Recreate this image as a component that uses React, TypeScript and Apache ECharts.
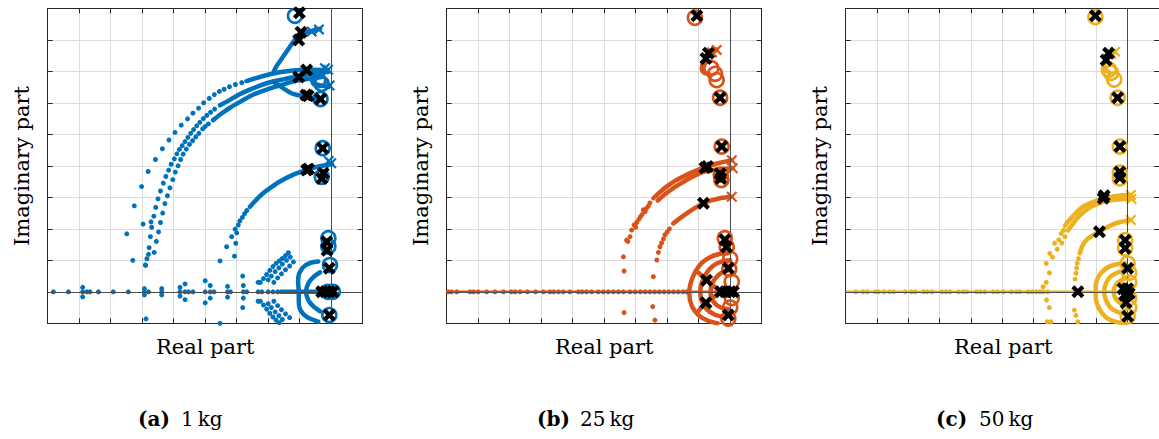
import React, { useEffect, useRef } from 'react';
import * as echarts from 'echarts';

type P = [number, number];

const BLUE = '#0072BD';
const ORANGE = '#D95319';
const YELLOW = '#EDB120';

const X_MIN = -9, X_MAX = 1, Y_MIN = -1, Y_MAX = 9;
const captions = [['(a)', '1\u2009kg'], ['(b)', '25\u2009kg'], ['(c)', '50\u2009kg']];

// ---------------- Panel (a) 1 kg ----------------
const aPoles: P[] = [[-0.39, 8.33], [-0.62, 8.26], [-0.1, 7.05], [-0.2, 7.1], [-0.05, 6.55], [0.0, 4.08], [-0.08, 4.15]];
const aZeros: P[] = [[-1.15, 8.76], [-0.41, 6.72], [-0.3, 6.6], [-0.34, 6.12], [-0.27, 4.56], [-0.3, 3.65], [-0.09, 1.7], [-0.09, 1.44], [-0.04, 0.85], [-0.06, -0.74], [-0.1, 0], [0.05, 0]];
const aClosed: P[] = [[-1.01, 8.86], [-0.96, 8.24], [-1.03, 7.99], [-0.78, 7.04], [-1.03, 6.82], [-0.73, 6.22], [-0.8, 6.25], [-0.34, 6.12], [-0.27, 4.56], [-0.78, 3.87], [-0.72, 3.9], [-0.25, 3.76], [-0.3, 3.6], [-0.14, 1.59], [-0.13, 1.32], [-0.06, 0.75], [-0.3, 0], [-0.18, 0], [-0.06, 0], [0.06, 0], [-0.06, -0.74]];
const aUpperBranch: P[] = [[-0.35, 8.35], [-0.62, 8.28], [-0.96, 8.2], [-1.15, 8.0], [-1.31, 7.78], [-1.47, 7.55], [-1.62, 7.33], [-1.73, 7.17], [-1.82, 7.0]];
const aOuterDense: P[] = [[-0.1, 7.04], [-0.57, 7.05], [-0.99, 7.04], [-1.42, 7.0], [-1.84, 6.93], [-2.26, 6.82], [-2.69, 6.69]];
const aMidDense: P[] = [[-0.1, 6.98], [-0.6, 6.92], [-1.0, 6.85], [-1.5, 6.75], [-2.05, 6.62], [-2.5, 6.45], [-2.89, 6.28], [-3.2, 6.1], [-3.53, 5.92]];
const aInnerDense: P[] = [[-0.3, 6.82], [-0.8, 6.75], [-1.2, 6.68], [-1.6, 6.56], [-2.05, 6.42], [-2.5, 6.25], [-2.84, 6.06], [-3.2, 5.85], [-3.48, 5.66], [-3.75, 5.45]];
const aLoopLow: P[] = [[-1.84, 6.67], [-1.52, 6.46], [-1.2, 6.28], [-0.78, 6.19], [-0.36, 6.12]];
const aLoopSmall: P[] = [[-0.15, 7.0], [-0.45, 6.9], [-0.6, 6.75], [-0.5, 6.6], [-0.3, 6.55], [-0.08, 6.5]];
const aArcMid: P[] = [[0.02, 4.06], [-0.4, 3.98], [-0.78, 3.87], [-1.2, 3.72], [-1.63, 3.5], [-1.9, 3.32], [-2.16, 3.13], [-2.4, 2.9], [-2.58, 2.7]];
const aBowlOuter: P[] = [[-0.41, 0.96], [-0.68, 0.91], [-0.89, 0.78], [-1.02, 0.57], [-1.05, 0.32], [-1.03, 0], [-1.03, -0.32], [-0.98, -0.58], [-0.79, -0.79], [-0.41, -0.95]];
const aBowlInner: P[] = [[-0.35, 0.62], [-0.55, 0.48], [-0.72, 0.28], [-0.8, 0], [-0.72, -0.28], [-0.55, -0.48], [-0.35, -0.62]];
const aAxisDense: P[] = [[-1.6, 0], [0.1, 0]];
const aOuterDots: P[] = [[-2.84, 6.64], [-3.04, 6.58], [-3.23, 6.51], [-3.4, 6.43], [-3.55, 6.36], [-3.71, 6.26], [-3.87, 6.14], [-4.05, 6.0], [-4.21, 5.83], [-4.39, 5.67], [-4.56, 5.49], [-4.76, 5.29], [-4.96, 5.06], [-5.15, 4.82], [-5.36, 4.54], [-5.58, 4.2], [-5.81, 3.82], [-6.02, 3.34], [-6.25, 2.73], [-6.49, 1.84], [-6.3, 1.0]];
const aMidDots: P[] = [[-3.7, 5.8], [-3.83, 5.7], [-3.95, 5.6], [-4.06, 5.5], [-4.17, 5.38], [-4.27, 5.27], [-4.37, 5.15], [-4.46, 5.03], [-4.55, 4.9], [-4.64, 4.77], [-4.73, 4.64], [-4.82, 4.52], [-4.9, 4.38], [-4.98, 4.22], [-5.08, 4.05], [-5.16, 3.86], [-5.25, 3.66], [-5.33, 3.45], [-5.42, 3.2], [-5.5, 2.95], [-5.57, 2.68], [-5.63, 2.4], [-5.7, 2.05], [-5.74, 1.75], [-5.78, 1.4], [-5.85, 1.05], [-5.9, 0.85]];
const aInnerDots: P[] = [[-3.9, 5.33], [-4.0, 5.25], [-4.08, 5.17], [-4.2, 5.03], [-4.3, 4.92], [-4.4, 4.8], [-4.5, 4.68], [-4.6, 4.53], [-4.7, 4.37], [-4.78, 4.2], [-4.86, 4.0], [-4.95, 3.8], [-5.03, 3.56], [-5.12, 3.3], [-5.2, 3.05], [-5.28, 2.8], [-5.35, 2.5], [-5.42, 2.2], [-5.48, 1.9], [-5.55, 1.6], [-5.62, 1.25], [-5.97, 2.15], [-5.72, 2.22]];
const aArcMidDots: P[] = [[-2.68, 2.58], [-2.75, 2.48], [-2.82, 2.36], [-2.9, 2.25], [-2.95, 2.12], [-3.05, 1.99], [-3.0, 1.87], [-3.16, 1.75], [-3.03, 1.54], [-3.32, 1.43], [-3.07, 1.13], [-3.53, 0.98]];
const aFanDots: P[] = [[-1.36, 1.24], [-1.45, 1.15], [-1.55, 1.06], [-1.65, 0.98], [-1.75, 0.9], [-1.85, 0.8], [-1.95, 0.68], [-2.05, 0.55], [-2.15, 0.42], [-2.25, 0.3], [-1.3, 1.1], [-1.42, 1.0], [-1.55, 0.88], [-1.66, 0.76], [-1.78, 0.64], [-1.9, 0.5], [-2.0, 0.38], [-1.2, 0.95], [-1.32, 0.82], [-1.45, 0.7], [-1.58, 0.57], [-1.7, 0.44], [-1.82, 0.3], [-2.25, -0.3], [-2.15, -0.42], [-2.05, -0.55], [-1.95, -0.68], [-1.85, -0.8], [-1.75, -0.9], [-1.65, -0.98], [-2.0, -0.38], [-1.9, -0.5], [-1.78, -0.64], [-1.66, -0.76], [-1.55, -0.88], [-1.82, -0.3], [-1.7, -0.44], [-1.58, -0.57], [-1.45, -0.7], [-1.32, -0.82]];
const aAxisDots: P[] = [[-8.82, 0], [-8.34, 0], [-7.89, 0], [-7.76, 0], [-7.66, 0], [-7.39, 0], [-6.92, 0], [-6.44, 0], [-5.93, 0], [-5.8, 0], [-5.38, 0], [-4.8, 0], [-4.64, 0], [-4.53, 0], [-4.39, 0], [-4.0, 0], [-3.84, 0], [-3.72, 0], [-3.29, 0], [-3.2, 0], [-2.79, 0], [-2.68, 0], [-2.32, 0], [-2.2, 0], [-2.0, 0], [-1.85, 0], [-1.7, 0], [-7.89, 0.14], [-7.89, -0.16], [-5.93, 0.1], [-5.93, -0.1], [-5.38, 0.1], [-5.38, -0.1], [-4.8, 0.14], [-4.8, -0.14], [-4.64, 0.25], [-4.64, -0.25], [-4.0, 0.35], [-4.0, -0.35], [-3.84, 0.2], [-3.84, -0.2], [-3.29, 0.17], [-3.29, -0.17], [-2.81, 0.5], [-2.81, -0.5], [-2.79, 0.2], [-2.79, -0.2], [-2.32, 0.3], [-2.32, -0.3], [-5.88, -0.86], [-3.53, -1.0], [-5.89, 0.84], [-5.8, 1.19]];

// ---------------- Panel (b) 25 kg ----------------
const bPoles: P[] = [[-0.43, 7.68], [-0.58, 7.6], [0.05, 4.18], [0.08, 3.92], [0.05, 3.02]];
const bZeros: P[] = [[-1.12, 8.7], [-0.6, 7.1], [-0.48, 6.92], [-0.43, 6.72], [-0.32, 6.16], [-0.27, 4.61], [-0.3, 3.72], [-0.28, 3.55], [-0.17, 1.7], [-0.11, 1.42], [0.0, 1.05], [-0.03, 0.72], [0.05, 0.32], [0.05, -0.2], [0.0, -0.5], [-0.06, -0.85]];
const bClosed: P[] = [[-1.06, 8.76], [-0.69, 7.57], [-0.77, 7.41], [-0.32, 6.16], [-0.27, 4.61], [-0.8, 3.94], [-0.72, 3.98], [-0.32, 3.75], [-0.3, 3.6], [-0.85, 2.81], [-0.17, 1.65], [-0.12, 1.42], [-0.06, 0.75], [-0.75, 0.37], [-0.77, -0.35], [-0.3, 0], [-0.15, 0], [0, 0], [0.1, 0], [-0.06, -0.74]];
const bTopHook: P[] = [[-0.43, 7.68], [-0.62, 7.55], [-0.77, 7.41], [-0.87, 7.25], [-0.9, 7.08], [-0.82, 6.95], [-0.65, 6.9]];
const bArcA: P[] = [[0.05, 4.18], [-0.3, 4.1], [-0.8, 3.96], [-1.2, 3.8], [-1.49, 3.66], [-1.75, 3.52], [-2.02, 3.34], [-2.25, 3.15], [-2.44, 2.97]];
const bArcB: P[] = [[0.08, 3.92], [-0.4, 3.88], [-0.8, 3.82], [-1.3, 3.6], [-1.7, 3.36], [-2.0, 3.15], [-2.3, 2.9]];
const bArcC: P[] = [[0.05, 3.02], [-0.3, 2.98], [-0.6, 2.9], [-0.85, 2.81], [-1.1, 2.67], [-1.38, 2.49], [-1.6, 2.33], [-1.81, 2.17]];
const bLoop1: P[] = [[-0.05, 1.25], [-0.35, 1.2], [-0.64, 1.1], [-0.9, 0.92], [-1.1, 0.65], [-1.25, 0.3], [-1.3, -0.05], [-1.22, -0.45], [-1.0, -0.75], [-0.7, -0.92], [-0.4, -1.0]];
const bLoop2: P[] = [[0.0, 1.0], [-0.3, 0.95], [-0.55, 0.82], [-0.75, 0.6], [-0.9, 0.3], [-0.95, 0.0], [-0.9, -0.3], [-0.75, -0.55], [-0.5, -0.72], [-0.2, -0.8]];
const bLoop3: P[] = [[0.0, 0.7], [-0.25, 0.62], [-0.45, 0.45], [-0.6, 0.2], [-0.62, -0.1], [-0.5, -0.35], [-0.3, -0.5], [-0.05, -0.55]];
const bCrossUp: P[] = [[-1.0, 0.6], [-0.75, 0.37], [-0.3, 0]];
const bCrossDown: P[] = [[-1.0, -0.6], [-0.77, -0.35], [-0.3, 0]];
const bAxisLine: P[] = [[-9, 0], [0.1, 0]];
const bArcDots: P[] = [[-2.55, 2.82], [-2.6, 2.72], [-2.66, 2.65], [-2.7, 2.55], [-2.76, 2.6], [-2.8, 2.45], [-2.85, 2.38], [-2.9, 2.3], [-2.97, 2.2], [-3.0, 2.05], [-3.05, 2.12], [-3.13, 1.96], [-3.18, 1.75], [-3.25, 1.6], [-3.29, 1.64], [-3.39, 1.11], [-3.37, 0.66], [-3.37, -0.66], [-1.93, 2.0], [-2.0, 1.9], [-2.07, 1.81], [-2.12, 1.68], [-2.18, 1.55], [-2.23, 1.43], [-2.28, 1.25], [-2.33, 1.01], [-2.44, 0.48], [-2.46, -0.47], [-2.39, -0.9]];
const bAxisDots: P[] = [[-8.95, 0], [-8.85, 0], [-8.68, 0], [-8.26, 0], [-8.15, 0], [-8.0, 0], [-7.73, 0], [-7.47, 0], [-7.2, 0], [-6.95, 0], [-6.83, 0], [-6.67, 0], [-6.44, 0], [-6.18, 0], [-5.93, 0], [-5.72, 0], [-5.6, 0], [-5.45, 0], [-5.3, 0], [-5.09, 0], [-4.82, 0], [-4.7, 0], [-4.56, 0], [-4.4, 0], [-4.19, 0], [-4.03, 0], [-3.87, 0], [-3.71, 0], [-3.55, 0], [-3.39, 0], [-3.18, 0], [-3.02, 0], [-2.85, 0], [-2.7, 0], [-2.55, 0], [-2.4, 0], [-2.25, 0], [-2.1, 0], [-1.95, 0], [-1.8, 0], [-1.65, 0], [-1.5, 0], [-1.38, 0]];

// ---------------- Panel (c) 50 kg ----------------
const cPoles: P[] = [[-0.4, 7.62], [-0.52, 7.55], [0.1, 3.07], [0.12, 2.95], [0.1, 2.28]];
const cZeros: P[] = [[-1.03, 8.72], [-0.6, 7.05], [-0.53, 6.95], [-0.43, 6.74], [-0.32, 6.16], [-0.25, 4.61], [-0.25, 3.78], [-0.25, 3.6], [-0.08, 1.64], [-0.08, 1.38], [0, 0.9], [0.05, 0.6], [0.05, 0.3], [0.05, -0.2], [0.05, -0.5], [0, -0.78]];
const cClosed: P[] = [[-1.03, 8.76], [-0.61, 7.57], [-0.69, 7.36], [-0.32, 6.16], [-0.25, 4.61], [-0.25, 3.8], [-0.25, 3.62], [-0.78, 2.97], [-0.75, 3.05], [-0.9, 1.91], [-0.08, 1.64], [-0.08, 1.38], [0, 0.75], [-1.59, 0], [-0.15, 0.1], [0, 0.1], [-0.1, -0.1], [0.05, -0.05], [-0.05, -0.35], [0, -0.78]];
const cTopHook: P[] = [[-0.4, 7.62], [-0.55, 7.5], [-0.69, 7.36], [-0.75, 7.2], [-0.72, 7.05], [-0.6, 6.98]];
const cArcA: P[] = [[0.1, 3.07], [-0.3, 3.05], [-0.78, 2.97], [-1.1, 2.85], [-1.43, 2.7], [-1.65, 2.5], [-1.86, 2.28], [-2.0, 2.1]];
const cArcB: P[] = [[0.12, 2.95], [-0.4, 2.92], [-0.8, 2.85], [-1.2, 2.68], [-1.5, 2.45], [-1.72, 2.2], [-1.9, 1.95]];
const cArcC: P[] = [[0.1, 2.28], [-0.3, 2.2], [-0.6, 2.08], [-0.9, 1.91], [-1.1, 1.8], [-1.32, 1.64], [-1.45, 1.45], [-1.53, 1.22]];
const cLoop1: P[] = [[-0.06, 0.9], [-0.3, 0.88], [-0.59, 0.8], [-0.8, 0.65], [-0.95, 0.45], [-1.02, 0.2], [-1.02, -0.2], [-0.95, -0.45], [-0.8, -0.7], [-0.59, -0.88], [-0.3, -0.97], [-0.06, -1.0]];
const cLoop2: P[] = [[0.0, 0.7], [-0.3, 0.62], [-0.55, 0.48], [-0.7, 0.25], [-0.75, 0.0], [-0.7, -0.25], [-0.55, -0.5], [-0.3, -0.65], [0.0, -0.72]];
const cLoop3: P[] = [[0.0, 0.45], [-0.2, 0.38], [-0.38, 0.22], [-0.45, 0.0], [-0.38, -0.22], [-0.2, -0.38], [0.0, -0.45]];
const cAxisLine: P[] = [[-9, 0], [0.1, 0]];
const cArcDots: P[] = [[-2.05, 1.95], [-2.12, 1.85], [-2.0, 1.75], [-2.2, 1.65], [-2.1, 1.55], [-2.33, 1.54], [-2.25, 1.35], [-2.49, 1.22], [-2.4, 1.1], [-2.6, 0.9], [-2.5, 0.6], [-2.7, 0.16], [-2.6, 0.3], [-2.59, -0.26], [-2.5, -0.5], [-2.57, -0.95], [-2.45, -0.95], [-1.57, 1.05], [-1.61, 0.9], [-1.63, 0.75], [-1.65, 0.59], [-1.68, 0.4], [-1.7, -0.58], [-1.65, -0.75], [-1.59, -0.95]];
const cAxisDots: P[] = [[-8.68, 0], [-8.45, 0], [-8.31, 0], [-8.05, 0], [-7.95, 0], [-7.78, 0], [-7.6, 0], [-7.47, 0], [-7.1, 0], [-6.9, 0], [-6.78, 0], [-6.51, 0], [-6.4, 0], [-6.25, 0], [-5.93, 0], [-5.8, 0], [-5.67, 0], [-5.4, 0], [-5.25, 0], [-5.14, 0], [-4.82, 0], [-4.7, 0], [-4.56, 0], [-4.29, 0], [-4.15, 0], [-3.97, 0], [-3.71, 0], [-3.55, 0], [-3.44, 0], [-3.18, 0], [-3.05, 0], [-2.91, 0], [-2.8, 0], [-2.7, 0], [-2.55, 0]];

const panels = [
  { color: BLUE, lines: [aUpperBranch, aOuterDense, aMidDense, aInnerDense, aLoopLow, aLoopSmall, aArcMid, aBowlOuter, aBowlInner, aAxisDense], axisLine: null as P[] | null, dots: [aOuterDots, aMidDots, aInnerDots, aArcMidDots, aFanDots, aAxisDots], poles: aPoles, zeros: aZeros, closed: aClosed },
  { color: ORANGE, lines: [bTopHook, bArcA, bArcB, bArcC, bLoop1, bLoop2, bLoop3, bCrossUp, bCrossDown], axisLine: bAxisLine, dots: [bArcDots, bAxisDots], poles: bPoles, zeros: bZeros, closed: bClosed },
  { color: YELLOW, lines: [cTopHook, cArcA, cArcB, cArcC, cLoop1, cLoop2, cLoop3], axisLine: cAxisLine, dots: [cArcDots, cAxisDots], poles: cPoles, zeros: cZeros, closed: cClosed },
];

const X_THICK = 'path://M0,2.3L2.3,0L5,2.7L7.7,0L10,2.3L7.3,5L10,7.7L7.7,10L5,7.3L2.3,10L0,7.7L2.7,5Z';
const X_THIN = 'path://M0,1.4L1.4,0L5,3.6L8.6,0L10,1.4L6.4,5L10,8.6L8.6,10L5,6.4L1.4,10L0,8.6L3.6,5Z';

const FONT = '"DejaVu Serif", serif';
const GRID_LEFT = 47.7, GRID_TOP = 8.3, GRID_SIZE = 315, GRID_STEP = 399;

export default function App() {
  const ref = useRef<HTMLDivElement>(null);
  useEffect(() => {
    if (!ref.current) return;
    const chart = echarts.init(ref.current, undefined, { renderer: 'svg' });
    const grid: any[] = [];
    const xAxis: any[] = [];
    const yAxis: any[] = [];
    const series: any[] = [];
    const graphic: any[] = [];
    const axisCol = '#262626';
    panels.forEach((p, i) => {
      grid.push({ left: GRID_LEFT + GRID_STEP * i, top: GRID_TOP, width: GRID_SIZE, height: GRID_SIZE, containLabel: false });
      const common = {
        gridIndex: i, type: 'value', interval: 1,
        axisLabel: { show: false },
        axisTick: { show: true, inside: true, length: 5, lineStyle: { color: axisCol, width: 1 } },
        axisLine: { show: true, onZero: false, lineStyle: { color: axisCol, width: 1 } },
      };
      xAxis.push({ ...common, min: X_MIN, max: X_MAX, position: 'bottom', splitLine: { show: true, lineStyle: { color: '#dcdcdc', width: 1 } } });
      xAxis.push({ ...common, min: X_MIN, max: X_MAX, position: 'top', splitLine: { show: false } });
      yAxis.push({ ...common, min: Y_MIN, max: Y_MAX, position: 'left', splitLine: { show: true, lineStyle: { color: '#dcdcdc', width: 1 } } });
      yAxis.push({ ...common, min: Y_MIN, max: Y_MAX, position: 'right', splitLine: { show: false } });
      const xi = 2 * i, yi = 2 * i;
      series.push({
        type: 'scatter', xAxisIndex: xi, yAxisIndex: yi, data: [], z: 1, silent: true,
        markLine: { silent: true, symbol: 'none', label: { show: false }, lineStyle: { color: '#4a4a4a', width: 1, type: 'solid' }, data: [{ xAxis: 0 }, { yAxis: 0 }] },
      });
      if (p.axisLine) {
        series.push({ type: 'line', xAxisIndex: xi, yAxisIndex: yi, data: p.axisLine, showSymbol: false, z: 2, silent: true, lineStyle: { color: p.color, width: 2.5 } });
      }
      p.lines.forEach((ln) => {
        series.push({ type: 'line', xAxisIndex: xi, yAxisIndex: yi, data: ln, showSymbol: false, smooth: 0.3, z: 2, silent: true, lineStyle: { color: p.color, width: 4.5, cap: 'round', join: 'round' } });
      });
      series.push({ type: 'scatter', xAxisIndex: xi, yAxisIndex: yi, data: p.dots.flat(), symbol: 'circle', symbolSize: 5, z: 3, silent: true, itemStyle: { color: p.color, opacity: 1 } });
      series.push({ type: 'scatter', xAxisIndex: xi, yAxisIndex: yi, data: p.poles, symbol: X_THIN, symbolSize: 11, z: 4, silent: true, itemStyle: { color: p.color, opacity: 1 } });
      series.push({ type: 'scatter', xAxisIndex: xi, yAxisIndex: yi, data: p.zeros, symbol: 'circle', symbolSize: 14, z: 5, silent: true, itemStyle: { color: 'rgba(0,0,0,0)', borderColor: p.color, borderWidth: 2.6, opacity: 1 } });
      series.push({ type: 'scatter', xAxisIndex: xi, yAxisIndex: yi, data: p.closed, symbol: X_THICK, symbolSize: 13, z: 6, silent: true, itemStyle: { color: '#000', opacity: 1 } });

      const ox = GRID_STEP * i;
      graphic.push({ type: 'text', x: 22 + ox, y: 166, rotation: Math.PI / 2, style: { text: 'Imaginary part', font: `21px ${FONT}`, fill: '#000', textAlign: 'center', textVerticalAlign: 'middle', align: 'center', verticalAlign: 'middle' } });
      graphic.push({ type: 'text', x: GRID_LEFT + GRID_SIZE / 2 + ox, y: 347, style: { text: 'Real part', font: `21px ${FONT}`, fill: '#000', textAlign: 'center', textVerticalAlign: 'middle', align: 'center', verticalAlign: 'middle' } });
      graphic.push({ type: 'text', x: 138 + ox, y: 419, style: { text: captions[i][0], font: `bold 20px ${FONT}`, fill: '#000', textAlign: 'left', textVerticalAlign: 'middle', align: 'left', verticalAlign: 'middle' } });
      graphic.push({ type: 'text', x: 181 + ox, y: 419, style: { text: captions[i][1], font: `20px ${FONT}`, fill: '#000', textAlign: 'left', textVerticalAlign: 'middle', align: 'left', verticalAlign: 'middle' } });
    });
    chart.setOption({ animation: false, grid, xAxis, yAxis, series, graphic });
    return () => chart.dispose();
  }, []);
  return <div ref={ref} style={{ position: 'absolute', left: 0, top: 0, width: 1159, height: 439, background: '#fff' }} />;
}
